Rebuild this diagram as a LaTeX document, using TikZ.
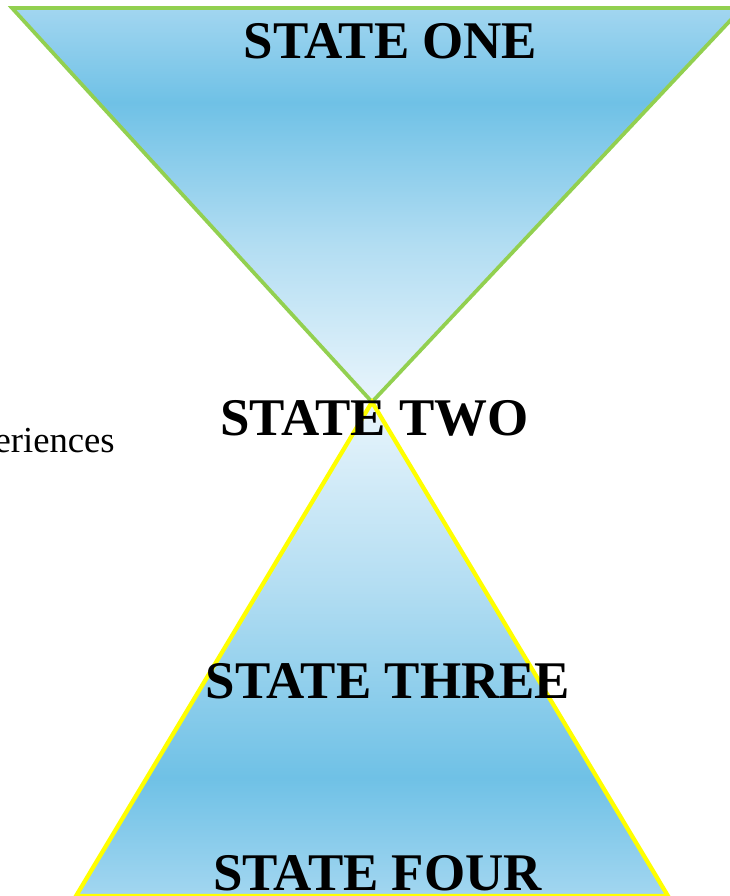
\documentclass[tikz,border=0pt]{standalone}
\usepackage{fontspec}
\setmainfont{Liberation Serif}
\definecolor{apexc}{HTML}{E9F5FC}
\definecolor{midc}{HTML}{B2DDF2}
\definecolor{satc}{HTML}{6FC1E6}
\definecolor{edgec}{HTML}{A2D6F0}
\definecolor{greenline}{HTML}{92D050}
\definecolor{yellowline}{HTML}{FFFF00}
\pgfdeclareverticalshading{topgrad}{100bp}{color(0bp)=(apexc); color(25bp)=(apexc); color(45bp)=(midc); color(63bp)=(satc); color(75bp)=(edgec); color(100bp)=(edgec)}
\pgfdeclareverticalshading{botgrad}{100bp}{color(0bp)=(edgec); color(25bp)=(edgec); color(37bp)=(satc); color(56bp)=(midc); color(75bp)=(apexc); color(100bp)=(apexc)}
\tikzset{
  lbl/.style={font=\fontsize{39.7}{44}\selectfont\bfseries, inner sep=0pt, anchor=base},
  side/.style={font=\fontsize{27.5}{31}\selectfont, inner sep=0pt, anchor=base east}
}
\begin{document}
\begin{tikzpicture}[x=0.75pt,y=-0.75pt]
\useasboundingbox (0,0) rectangle (730,896);
\clip (0,0) rectangle (730,896);
% top triangle
\path[shading=topgrad] (12,8) -- (742,8) -- (372,402) -- cycle;
\draw[greenline, line width=2.8pt] (12,8) -- (742,8) -- (372,402) -- cycle;
% bottom triangle
\path[shading=botgrad] (372,402) -- (668,896) -- (76,896) -- cycle;
\draw[yellowline, line width=3.2pt] (372,402) -- (668,896) -- (76,896) -- cycle;
% labels
\node[side] (exp) at (115,452) {eriences};
\node[lbl] (one) at (390.5,58) {STATE ONE};
\node[lbl] (two) at (374.5,435) {STATE TWO};
\node[lbl] (three) at (388,698) {STATE THREE};
\node[lbl] (four) at (377.5,890) {STATE FOUR};
\end{tikzpicture}
\end{document}
